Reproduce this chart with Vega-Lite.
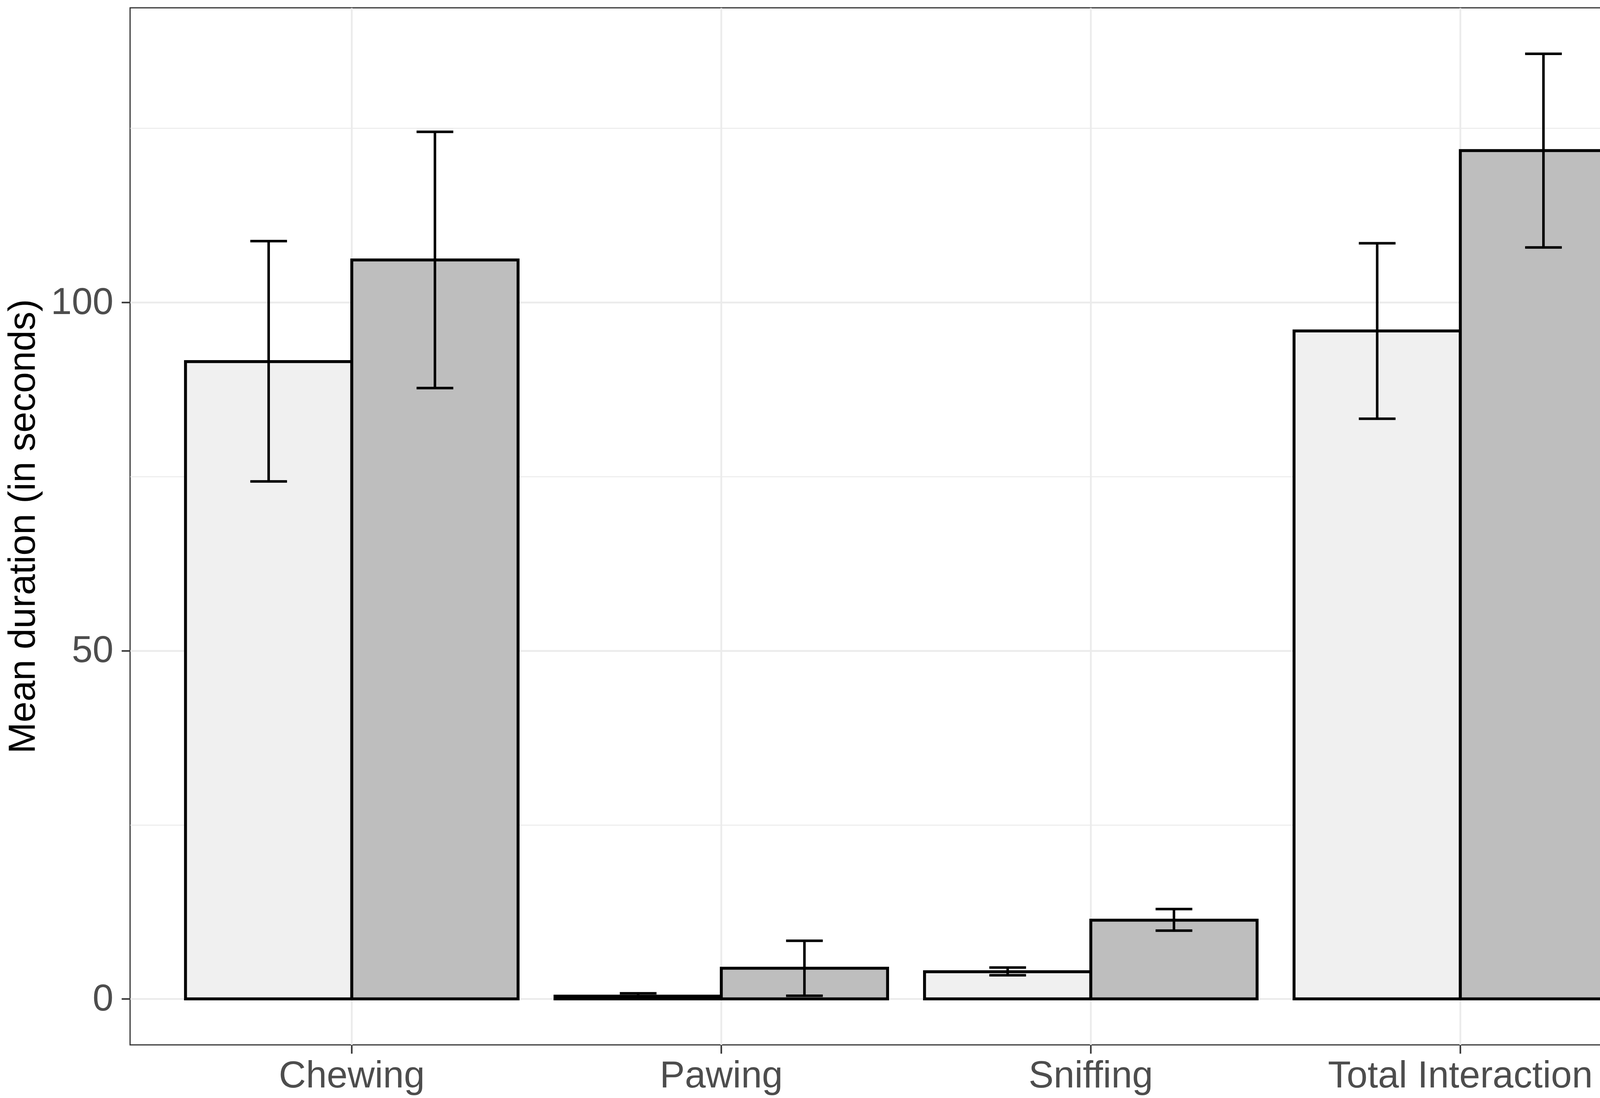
{
  "$schema": "https://vega.github.io/schema/vega-lite/v6.json",
  "autosize": {"type": "none"},
  "padding": {"left": 333, "top": 20, "right": 21, "bottom": 136},
  "width": 3973,
  "height": 2655,
  "background": "white",
  "config": {
    "font": "Liberation Sans",
    "view": {"stroke": "#333333", "strokeWidth": 3},
    "axis": {
      "labelFont": "Liberation Sans",
      "titleFont": "Liberation Sans",
      "labelFontSize": 96,
      "titleFontSize": 96,
      "labelColor": "#4D4D4D",
      "titleColor": "#000000",
      "titleFontWeight": "normal",
      "tickColor": "#333333",
      "tickWidth": 4,
      "tickSize": 22,
      "gridColor": "#EBEBEB",
      "labelLimit": 0,
      "domain": false
    }
  },
  "data": {
    "values": [
      {"Behavior": "Chewing", "Group": "Group 1", "mean": 91.5, "lo": 74.3, "hi": 108.8},
      {"Behavior": "Chewing", "Group": "Group 2", "mean": 106.1, "lo": 87.7, "hi": 124.5},
      {"Behavior": "Pawing", "Group": "Group 1", "mean": 0.4, "lo": 0.0, "hi": 0.8},
      {"Behavior": "Pawing", "Group": "Group 2", "mean": 4.4, "lo": 0.45, "hi": 8.35},
      {"Behavior": "Sniffing", "Group": "Group 1", "mean": 3.9, "lo": 3.4, "hi": 4.5},
      {"Behavior": "Sniffing", "Group": "Group 2", "mean": 11.3, "lo": 9.8, "hi": 12.9},
      {"Behavior": "Total Interaction", "Group": "Group 1", "mean": 95.9, "lo": 83.3, "hi": 108.5},
      {"Behavior": "Total Interaction", "Group": "Group 2", "mean": 121.8, "lo": 107.9, "hi": 135.7}
    ]
  },
  "encoding": {
    "x": {
      "field": "Behavior",
      "type": "nominal",
      "sort": ["Chewing", "Pawing", "Sniffing", "Total Interaction"],
      "scale": {"paddingInner": 0.1, "paddingOuter": 0.15},
      "axis": {
        "title": null,
        "labelAngle": 0,
        "labelPadding": 10,
        "labelLimit": 0,
        "grid": true,
        "gridWidth": 4.5
      }
    },
    "xOffset": {
      "field": "Group",
      "type": "nominal",
      "sort": ["Group 1", "Group 2"],
      "scale": {"paddingInner": 0, "paddingOuter": 0}
    }
  },
  "layer": [
    {
      "mark": {"type": "bar", "stroke": "#000000", "strokeWidth": 7.5, "opacity": 1},
      "encoding": {
        "y": {
          "field": "mean",
          "type": "quantitative",
          "scale": {"domain": [-6.6, 142.3], "nice": false, "zero": false},
          "axis": {
            "title": "Mean duration (in seconds)",
            "values": [0, 25, 50, 75, 100, 125],
            "labelExpr": "datum.value % 50 === 0 ? datum.label : ''",
            "labelPadding": 21,
            "tickOpacity": {"expr": "datum.value % 50 === 0 ? 1 : 0"},
            "grid": true,
            "gridWidth": {"expr": "datum.value % 50 === 0 ? 4.5 : 2.5"},
            "titleAngle": -90,
            "titleBaseline": "alphabetic",
            "titleAlign": "center",
            "titleX": -245,
            "titleY": 1327
          }
        },
        "fill": {
          "field": "Group",
          "type": "nominal",
          "scale": {"domain": ["Group 1", "Group 2"], "range": ["#F0F0F0", "#BEBEBE"]},
          "legend": null
        }
      }
    },
    {
      "mark": {"type": "rule", "color": "#000000", "strokeWidth": 6.5},
      "encoding": {
        "y": {"field": "lo", "type": "quantitative"},
        "y2": {"field": "hi"}
      }
    },
    {
      "mark": {"type": "tick", "color": "#000000", "size": 94, "thickness": 6.5, "opacity": 1, "orient": "horizontal"},
      "encoding": {
        "y": {"field": "lo", "type": "quantitative"}
      }
    },
    {
      "mark": {"type": "tick", "color": "#000000", "size": 94, "thickness": 6.5, "opacity": 1, "orient": "horizontal"},
      "encoding": {
        "y": {"field": "hi", "type": "quantitative"}
      }
    }
  ]
}
